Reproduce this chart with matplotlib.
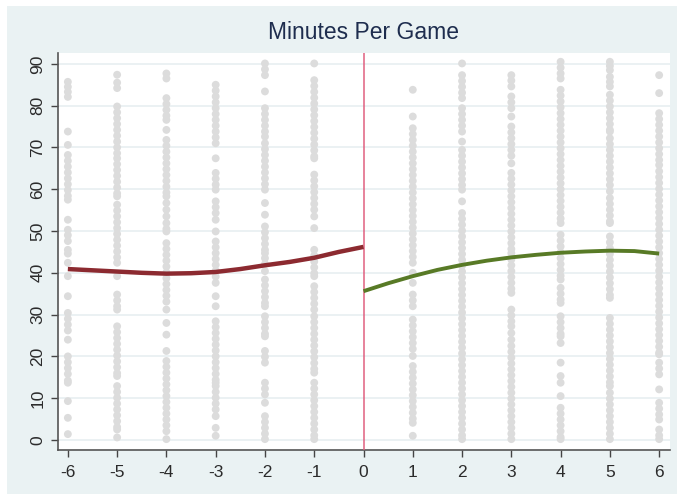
import numpy as np
import matplotlib
matplotlib.use('Agg')
import matplotlib.pyplot as plt
from matplotlib.patches import Rectangle

plt.rcParams['font.family'] = ['Liberation Sans', 'DejaVu Sans']
plt.rcParams['axes.unicode_minus'] = False

# scatter values by relative position (x)
col_vals = {
    -6: [85.7, 84.5, 83.3, 82.1, 73.8, 70.6, 68.2, 66.8, 65.4, 64, 62.6, 61.2, 59.8, 58.4, 57.5,
         52.7, 50.3, 49, 47.6, 45.5, 44.6, 42.4, 39.2, 34.4, 30.4, 29, 27.6, 26.2, 24, 20, 18.6,
         17.2, 15.8, 14.2, 13.7, 9.3, 5.3, 1.4],
    -5: [87.4, 85.5, 84.2, 79.8, 78.4, 77, 75.6, 74.2, 72.8, 71.4, 70, 68.6, 67.4, 66, 64.6, 63.2,
         61.8, 60.4, 59, 58.3, 56.3, 54.9, 53.5, 52.1, 50.7, 49.3, 47.9, 46.5, 45.1, 43.7, 42.4,
         39.2, 34.8, 33.4, 32, 31.2, 27.2, 25.8, 24.4, 23, 21.6, 20.2, 18.8, 17.4, 16, 15.3, 12.9,
         11.5, 10.1, 8.7, 7.3, 5.9, 4.5, 3.1, 2.5, 0.6],
    -4: [87.7, 86.5, 81.8, 80.4, 79, 77.6, 76.6, 74.2, 71.8, 70.4, 69, 67.6, 66.2, 64.8, 63.4, 62,
         60.6, 59.2, 58.3, 56.7, 55.1, 53.5, 51.9, 50.5, 49.9, 47.1, 45.7, 44.3, 42.9, 41.5, 40.1,
         38.7, 37.3, 35.9, 34.5, 33.1, 31.2, 28, 25.2, 21.3, 18.9, 17.5, 16.1, 14.7, 13.3, 11.9,
         10.5, 9.1, 7.7, 6.3, 4.9, 3.5, 2.1, 0.2],
    -3: [85, 83.6, 82.2, 80.8, 79.4, 78, 76.6, 75.2, 73.8, 72.4, 71, 67.4, 63.9, 62.5, 61.1, 59.9,
         57.1, 55.7, 54.3, 52.7, 49.9, 47.5, 46.1, 44.7, 43.3, 41.9, 40.5, 39.1, 37.6, 34.4, 32,
         28.4, 27, 25.6, 24.2, 22.8, 21.4, 20, 18.6, 17.2, 15.8, 14.4, 13.7, 12.9, 11.5, 10.1, 8.7,
         7.3, 5.7, 2.9, 1],
    -2: [90.1, 88.7, 87.3, 83.4, 79.4, 78, 76.6, 75.2, 73.8, 72.6, 71, 69.6, 68.2, 66.8, 65.4, 64,
         62.6, 61.2, 59.9, 56.7, 53.9, 51.1, 49.7, 48.3, 46.9, 45.5, 44.7, 43.5, 42.1, 40.4, 38.4,
         37, 35.6, 34.2, 32.8, 32, 29.6, 28.2, 26.8, 25.4, 24.8, 21.3, 19.9, 18.5, 13.7, 12.3,
         10.9, 8.9, 5.7, 4.3, 2.9, 1.5, 0.2],
    -1: [90.1, 86.1, 84.7, 83.3, 81.9, 80.5, 79.1, 77.7, 76.3, 74.9, 73.5, 72.1, 70.7, 69.3, 67.9,
         67.4, 63.5, 62.1, 60.7, 59.3, 57.9, 56.5, 55.1, 53.5, 50.7, 45.5, 44.1, 42.7, 41.3, 39.9,
         39.2, 36.8, 35.4, 34, 32.6, 31.2, 29.6, 28.2, 26.8, 25.4, 24, 22.6, 21.2, 19.8, 18.4, 17,
         16.1, 13.7, 12.3, 10.9, 9.5, 8.1, 6.7, 5.3, 3.9, 2.5, 1.1, 0.2],
    1: [83.8, 77.4, 74.6, 73.2, 71.8, 70.4, 69, 67.6, 66.2, 64.8, 63.4, 62, 60.6, 59.2, 57.8, 56.4,
        55, 53.6, 52.2, 50.8, 49.4, 48, 46.6, 45.2, 43.8, 42.4, 40, 37.6, 34.8, 33.4, 32, 28.8,
        27.4, 26, 24.6, 23.2, 21.8, 20.1, 17.7, 16.3, 14.9, 13.5, 12.1, 10.7, 9.3, 7.9, 6.5, 5.1,
        4.1, 1],
    2: [90.1, 87.3, 85.9, 84.5, 83.1, 81.8, 79.4, 78, 76.6, 75.2, 73.8, 71.4, 69.4, 68, 66.6, 65.2,
        63.8, 62.4, 61, 59.9, 57.1, 54.3, 52.9, 51.5, 50.1, 48.7, 47.3, 45.9, 44.5, 43.1, 41.7,
        40.3, 38.9, 37.5, 36.1, 34.7, 33.3, 31.9, 30.5, 29.1, 27.7, 26.3, 24.9, 23.5, 22.1, 20.7,
        19.3, 17.9, 16.5, 15.1, 13.7, 12.3, 10.9, 9.5, 8.1, 6.7, 5.3, 3.9, 2.5, 1.1, 0.2],
    3: [87.3, 86, 84.6, 82.2, 80.8, 79.4, 77.4, 75, 73.6, 72.2, 70.8, 69.4, 68, 66.2, 63.9, 62.5,
        61.1, 59.7, 58.3, 56.9, 55.5, 54.1, 52.7, 51.3, 49.9, 48.5, 47.1, 45.7, 44.7, 43.2, 41.8,
        40.4, 39, 37.6, 36.2, 35.2, 31.2, 29.8, 28.4, 27.2, 25.6, 24, 22.5, 21.1, 19.7, 18.3,
        16.9, 15.5, 14.1, 12.7, 11.3, 9.9, 8.5, 7.1, 5.7, 4.3, 2.9, 1.5, 0.2],
    4: [90.5, 89.1, 87.7, 86.5, 83.8, 82.4, 81, 79.6, 78.2, 76.8, 75.4, 74, 72.6, 71.2, 69.8, 68.4,
        67, 65.6, 64.2, 62.8, 61.4, 60, 58.6, 57.2, 55.8, 54.4, 53, 51.9, 49.1, 47.7, 46.3, 44.9,
        43.5, 42.1, 40.7, 39.3, 38.4, 36.4, 35, 33.6, 32.8, 29.6, 28.2, 26.8, 25.4, 24.8, 23.2,
        18.5, 15.3, 13.7, 10.5, 7.7, 6.3, 4.9, 3.5, 2.1, 0.7, 0.2],
    5: [90.5, 89.5, 88.5, 86.9, 85.7, 84.6, 82.6, 81.2, 79.8, 78.4, 77, 75.6, 74.2, 73.8, 72.2,
        70.8, 69.4, 68, 66.6, 65.2, 63.8, 62.4, 61, 59.5, 57.9, 56.5, 55.1, 53.7, 52.3, 51.9, 48.7,
        47.3, 45.9, 44.5, 43.1, 41.7, 40.3, 38.9, 37.5, 36.1, 34.7, 34, 29.2, 27.8, 26.4, 25, 23.6,
        22.2, 20.8, 19.4, 18, 16.6, 15.2, 13.8, 12.9, 11.3, 9.9, 8.5, 7.1, 5.7, 4.3, 2.9, 1.5, 0.2],
    6: [87.3, 83, 78.2, 76.8, 75.4, 74, 72.6, 71.2, 69.8, 68.4, 67, 65.8, 64.3, 62.9, 61.5, 60.1,
        58.7, 57.3, 55.9, 54.5, 53.1, 51.7, 50.3, 48.9, 47.5, 46.1, 44.7, 43.3, 41.9, 40.5, 39.1,
        37.7, 36.3, 34.9, 33.5, 32.1, 30.7, 29.3, 27.9, 26.5, 25.1, 23.7, 22.3, 20.9, 20.5, 18.5,
        17.1, 15.7, 12.1, 8.9, 7.5, 6.1, 4.9, 2.5, 1.1, 0.2],
}

# fitted curves
left_x = [-6, -5.5, -5, -4.5, -4, -3.5, -3, -2.5, -2, -1.5, -1, -0.5, 0]
left_y = [40.9, 40.6, 40.3, 40.0, 39.8, 39.9, 40.2, 40.9, 41.8, 42.6, 43.6, 45.0, 46.2]
right_x = [0, 0.5, 1, 1.5, 2, 2.5, 3, 3.5, 4, 4.5, 5, 5.5, 6]
right_y = [35.6, 37.5, 39.2, 40.7, 41.9, 42.9, 43.7, 44.3, 44.8, 45.1, 45.3, 45.2, 44.6]

xticks = list(range(-6, 7))
yticks = list(range(0, 91, 10))

bg = '#eaf2f3'
fig = plt.figure(figsize=(6.77, 4.96), dpi=100)
fig.patch.set_facecolor('white')
fig.patches.append(Rectangle((7/677, 2/496), 670/677, 488/496, transform=fig.transFigure,
                             facecolor=bg, edgecolor='none', zorder=-10))

ax = fig.add_axes([58/677, 46/496, 612/677, 397/496])
ax.set_facecolor('white')

for xv, ys in col_vals.items():
    ax.scatter([xv]*len(ys), ys, s=32, color='#dcdcdc', edgecolors='none', zorder=2)

ax.axvline(0, color='#e06080', lw=1.1, zorder=3)
ax.plot(left_x, left_y, color='#8c2a30', lw=3.2, solid_capstyle='butt', zorder=4)
ax.plot(right_x, right_y, color='#587a26', lw=2.8, solid_capstyle='butt', zorder=4)

ax.set_xlim(-6.2, 6.22)
ax.set_ylim(-2.4, 92.6)
ax.set_xticks(xticks)
ax.set_yticks(yticks)
ax.set_yticklabels([str(v) for v in yticks], rotation=90, va='center')
ax.tick_params(axis='both', length=5, width=1, color='#444444', labelsize=12.5,
               labelcolor='#2b2b2b')
ax.tick_params(axis='y', pad=4)
ax.tick_params(axis='x', pad=6)
ax.grid(axis='y', color='#e6eef0', lw=1.1, zorder=0)
ax.set_axisbelow(True)
for side in ['top', 'right']:
    ax.spines[side].set_visible(False)
for side in ['left', 'bottom']:
    ax.spines[side].set_color('#555555')
    ax.spines[side].set_linewidth(1.2)

ax.set_title('Minutes Per Game', fontsize=16.5, color='#1e2d4e', pad=10)

fig.savefig('out.png', dpi=100, facecolor=fig.get_facecolor())
